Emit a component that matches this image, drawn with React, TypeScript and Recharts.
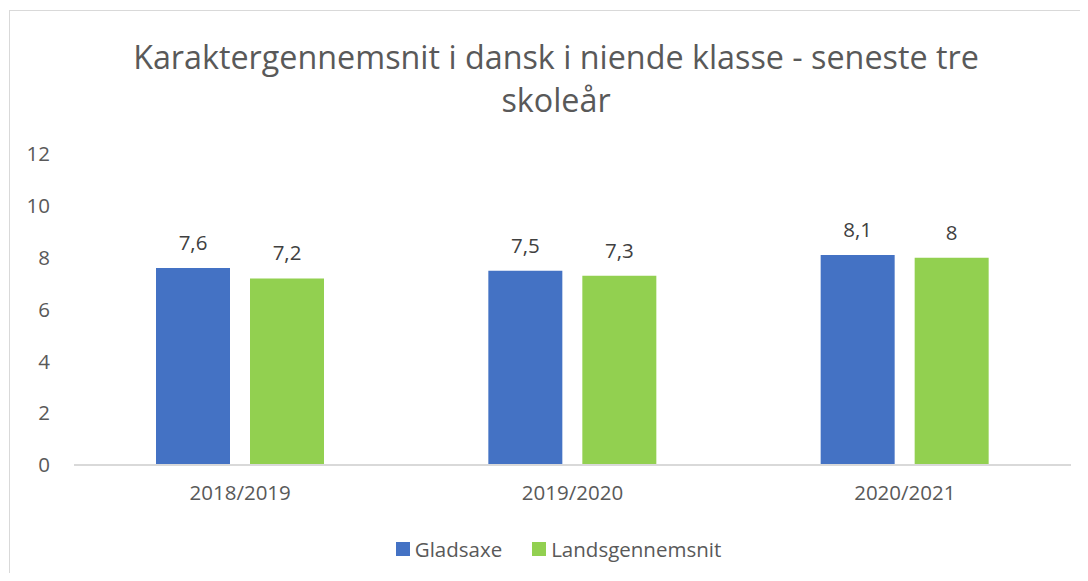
import React from 'react';
import { BarChart, Bar, XAxis, YAxis, Legend, LabelList } from 'recharts';

const categories = ['2018/2019', '2019/2020', '2020/2021'];
const gladsaxe = [7.6, 7.5, 8.1];
const landsgennemsnit = [7.2, 7.3, 8];
const yTicks = [0, 2, 4, 6, 8, 10, 12];

const FONT = '"Open Sans", sans-serif';
const BLUE = '#4472c4';
const GREEN = '#92d050';
const TXT = 20.5;

const data = categories.map((c, i) => ({
  year: c,
  Gladsaxe: gladsaxe[i],
  Landsgennemsnit: landsgennemsnit[i],
}));

const fmt = (v: any) => String(v).replace('.', ',');

const LegendContent = () => (
  <div style={{ display: 'flex', justifyContent: 'center', gap: 30, fontFamily: FONT, fontSize: 20.5, color: '#595959', height: 30, alignItems: 'center', paddingLeft: 36 }}>
    {[{ name: 'Gladsaxe', color: BLUE }, { name: 'Landsgennemsnit', color: GREEN }].map(item => (
      <div key={item.name} style={{ display: 'flex', alignItems: 'center', gap: 5 }}>
        <span style={{ width: 14, height: 14, background: item.color, display: 'inline-block' }} />
        <span>{item.name}</span>
      </div>
    ))}
  </div>
);

export default function App() {
  return (
    <div style={{ position: 'relative', width: 1088, height: 581, overflow: 'hidden', margin: -8 }}>
      <div style={{ position: 'absolute', left: 0, top: -20, fontFamily: FONT, fontWeight: 700, fontSize: 20, color: '#000', lineHeight: '27px' }}>
        Figur 6
      </div>
      <div style={{ position: 'absolute', left: 9, top: 10, width: 1100, height: 600, border: '1px solid #d9d9d9', background: '#fff' }}>
        <div style={{ position: 'absolute', left: 0, width: 1092, top: 24, textAlign: 'center', fontFamily: FONT, fontSize: 32.3, color: '#595959', lineHeight: '43px' }}>
          Karaktergennemsnit i dansk i niende klasse - seneste tre<br />skoleår
        </div>
        <div style={{ position: 'absolute', left: 0, top: 0 }}>
          <BarChart width={1079} height={570} data={data} margin={{ top: 143, right: 18, left: 0, bottom: 46 }} barSize={74} barGap={20}>
            <XAxis dataKey="year" height={40} tickLine={false} axisLine={{ stroke: '#d9d9d9', strokeWidth: 2 }} tick={{ fill: '#595959', fontSize: TXT, fontFamily: FONT }} tickMargin={14} />
            <YAxis width={64} domain={[0, 12]} ticks={yTicks} axisLine={false} tickLine={false} tick={{ fill: '#595959', fontSize: TXT, fontFamily: FONT }} tickMargin={18} />
            <Legend verticalAlign="bottom" content={<LegendContent />} wrapperStyle={{ bottom: 17 }} />
            <Bar dataKey="Gladsaxe" fill={BLUE} isAnimationActive={false}>
              <LabelList dataKey="Gladsaxe" position="top" offset={18} formatter={fmt} style={{ fill: '#404040', fontSize: TXT, fontFamily: FONT }} />
            </Bar>
            <Bar dataKey="Landsgennemsnit" fill={GREEN} isAnimationActive={false}>
              <LabelList dataKey="Landsgennemsnit" position="top" offset={18} formatter={fmt} style={{ fill: '#404040', fontSize: TXT, fontFamily: FONT }} />
            </Bar>
          </BarChart>
        </div>
      </div>
    </div>
  );
}
